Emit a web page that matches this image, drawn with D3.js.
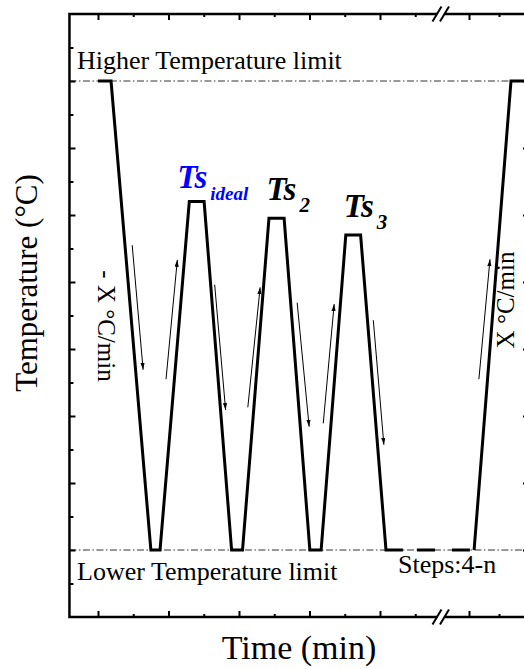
<!DOCTYPE html>
<html>
<head>
<meta charset="UTF-8">
<script src="https://cdnjs.cloudflare.com/ajax/libs/d3/7.8.5/d3.min.js"></script>
<style>
body { margin: 0; background: #fff; }
text { font-family: "Liberation Serif", "Times New Roman", Times, serif; fill: #000; }
</style>
</head>
<body>
<svg id="chart" width="524" height="669"></svg>
<script>
// temperature levels (arbitrary units, 1 major tick = 1)
const lowT = 1;
const highT = 8;
const peakTemps = [6.2, 5.95, 5.7];
const peakStarts = [3.59, 5.85, 8.03];
const peakNames = ["ideal", "2", "3"];

// cycle before the axis break
const cycleTimes = [1, 1.37, 2.5, 2.76, 3.59, 4.01, 4.79, 5.1, 5.85, 6.28, 7.01, 7.33, 8.03, 8.45, 9.17, 9.65];
const cycleTemps = [8, 8, 1, 1, 6.2, 6.2, 1, 1, 5.95, 5.95, 1, 1, 5.7, 5.7, 1, 1];

// after the break (second time scale)
const endTimes = [20.17, 21.4, 22];
const endTemps = [1, 8, 8];

// dashed hold at the lower limit, across the break
const holdStart = 10.05;   // first scale
const holdEnd = 20.03;     // second scale

// rate arrows: time from, time to, temp from, temp to, which scale
const arrowT0 = [1.97, 2.93, 4.31, 5.25, 6.65, 7.39, 8.81, 20.33];
const arrowT1 = [2.28, 3.25, 4.62, 5.60, 6.99, 7.70, 9.11, 20.70];
const arrowY0 = [5.55, 3.55, 4.96, 3.13, 4.69, 2.89, 4.43, 3.55];
const arrowY1 = [3.69, 5.33, 3.09, 4.92, 2.84, 4.67, 2.57, 5.34];
const arrowSeg = [1, 1, 1, 1, 1, 1, 1, 2];

// ticks
const majorTimes1 = [1, 3, 5, 7, 9];
const minorTimes1 = [2, 4, 6, 8, 10];
const majorTimes2 = [20];
const minorTimes2 = [21];
const majorTemps = [1, 2, 3, 4, 5, 6, 7, 8];
const minorTemps = [0.5, 1.5, 2.5, 3.5, 4.5, 5.5, 6.5, 7.5, 8.5];

const svg = d3.select("#chart");

const y = d3.scaleLinear().domain([0, 9]).range([617, 14]);
const x1 = d3.scaleLinear().domain([1, 10]).range([98, 415.25]);
const x2 = d3.scaleLinear().domain([20, 21]).range([469, 499]);

const tMin = 0.19, tMax = 22;
const plotL = x1(tMin), plotR = x2(tMax);
const plotT = y(9), plotB = y(0);
const breakA = 437, breakB = 444.5;

svg.append("rect").attr("width", 524).attr("height", 669).attr("fill", "#fff");

// limit lines
[lowT, highT].forEach(v => {
    svg.append("line")
        .attr("x1", plotL).attr("x2", plotR)
        .attr("y1", y(v)).attr("y2", y(v))
        .attr("stroke", "#333").attr("stroke-width", 1)
        .attr("stroke-dasharray", "7,2.5,1.5,2.5");
});

// ticks
function tickAxis(axis, vals, size, tr) {
    svg.append("g").attr("transform", tr)
        .call(axis.tickValues(vals).tickSize(size).tickFormat(""))
        .call(g => g.select(".domain").remove())
        .call(g => g.selectAll("line").attr("stroke", "#000").attr("stroke-width", 2));
}
tickAxis(d3.axisRight(y), majorTemps, 6, `translate(${plotL},0)`);
tickAxis(d3.axisRight(y), minorTemps, 4, `translate(${plotL},0)`);
tickAxis(d3.axisLeft(y), majorTemps, 6, `translate(${plotR},0)`);
tickAxis(d3.axisLeft(y), minorTemps, 4, `translate(${plotR},0)`);
[[x1, majorTimes1, minorTimes1], [x2, majorTimes2, minorTimes2]].forEach(([sc, maj, min]) => {
    tickAxis(d3.axisBottom(sc), maj, 6, `translate(0,${plotT})`);
    tickAxis(d3.axisBottom(sc), min, 3, `translate(0,${plotT})`);
    tickAxis(d3.axisTop(sc), maj, 6, `translate(0,${plotB})`);
    tickAxis(d3.axisTop(sc), min, 3, `translate(0,${plotB})`);
});

// frame with break
const frame = svg.append("g").attr("stroke", "#000").attr("stroke-width", 2.5).attr("fill", "none");
frame.append("path").attr("d", `M${breakA},${plotT}H${plotL}V${plotB}H${breakA}`);
frame.append("path").attr("d", `M${breakB},${plotT}H${plotR}V${plotB}H${breakB}`);
[plotT, plotB].forEach(yy => {
    [breakA, breakB].forEach(bx => {
        svg.append("line")
            .attr("x1", bx - 4.5).attr("y1", yy + 7.5)
            .attr("x2", bx + 4.5).attr("y2", yy - 7.5)
            .attr("stroke", "#000").attr("stroke-width", 2);
    });
});

// temperature program
const line1 = d3.line().x(d => x1(d[0])).y(d => y(d[1]));
const line2 = d3.line().x(d => x2(d[0])).y(d => y(d[1]));
svg.append("path")
    .attr("d", line1(d3.zip(cycleTimes, cycleTemps)))
    .attr("fill", "none").attr("stroke", "#000").attr("stroke-width", 3)
    .attr("stroke-linejoin", "miter");
svg.append("path")
    .attr("d", line2(d3.zip(endTimes, endTemps)))
    .attr("fill", "none").attr("stroke", "#000").attr("stroke-width", 3);
svg.append("line")
    .attr("x1", x1(holdStart)).attr("x2", x2(holdEnd))
    .attr("y1", y(lowT)).attr("y2", y(lowT))
    .attr("stroke", "#000").attr("stroke-width", 3)
    .attr("stroke-dasharray", "18,17");

// arrows
svg.append("defs").append("marker")
    .attr("id", "head").attr("viewBox", "0 0 10 6")
    .attr("refX", 10).attr("refY", 3)
    .attr("markerWidth", 7).attr("markerHeight", 4.2)
    .attr("markerUnits", "userSpaceOnUse")
    .attr("orient", "auto")
    .append("path").attr("d", "M0,0L10,3L0,6Z").attr("fill", "#000");

arrowT0.forEach((t0, i) => {
    const sc = arrowSeg[i] === 1 ? x1 : x2;
    svg.append("line")
        .attr("x1", sc(t0)).attr("y1", y(arrowY0[i]))
        .attr("x2", sc(arrowT1[i])).attr("y2", y(arrowY1[i]))
        .attr("stroke", "#000").attr("stroke-width", 1)
        .attr("marker-end", "url(#head)");
});

// peak labels
const labelDx = [-12, -2.5, -2];
const labelDy = [-14, -18, -18];
peakTemps.forEach((p, i) => {
    const t = svg.append("text")
        .attr("x", x1(peakStarts[i]) + labelDx[i])
        .attr("y", y(p) + labelDy[i])
        .attr("font-weight", "bold").attr("font-style", "italic")
        .attr("font-size", 33)
        .style("fill", i === 0 ? "#0000ff" : "#000");
    t.append("tspan").text("Ts");
    t.append("tspan").attr("dx", 3).attr("dy", 12)
        .attr("font-size", i === 0 ? 19 : 21).text(peakNames[i]);
});

// annotations
svg.append("text").attr("x", 77).attr("y", 69).attr("font-size", 26).text("Higher Temperature limit");
svg.append("text").attr("x", 77).attr("y", 580).attr("font-size", 26).text("Lower Temperature limit");
svg.append("text").attr("x", 398).attr("y", 573).attr("font-size", 26).text("Steps:4-n");

svg.append("text")
    .attr("transform", "translate(98,326) rotate(90)")
    .attr("text-anchor", "middle").attr("font-size", 25)
    .text("- X \u00B0C/min");
svg.append("text")
    .attr("transform", "translate(514,300) rotate(-90)")
    .attr("text-anchor", "middle").attr("font-size", 25)
    .text("X \u00B0C/min");

// axis titles
svg.append("text")
    .attr("transform", "translate(37,283) rotate(-90)")
    .attr("text-anchor", "middle").attr("font-size", 31)
    .text("Temperature (\u00B0C)");
svg.append("text")
    .attr("x", 299).attr("y", 659)
    .attr("text-anchor", "middle").attr("font-size", 34)
    .text("Time (min)");
</script>
</body>
</html>
